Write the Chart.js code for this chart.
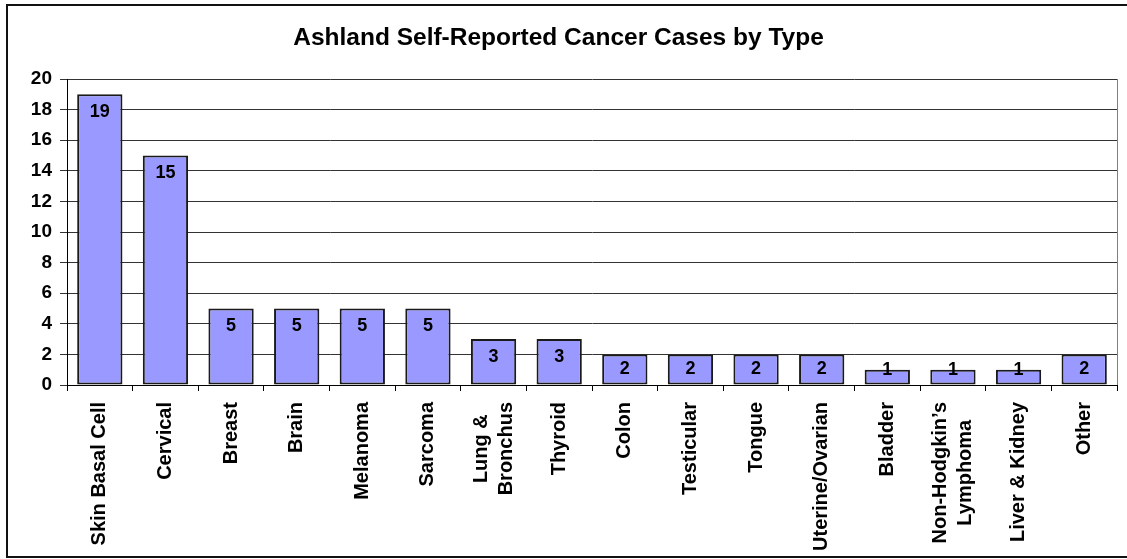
<!DOCTYPE html>
<html>
<head>
<meta charset="utf-8">
<title>Ashland Self-Reported Cancer Cases by Type</title>
<script src="https://cdn.jsdelivr.net/npm/chart.js@4/dist/chart.umd.min.js"></script>
<style>
html, body { margin: 0; padding: 0; background: #fff; }
#wrap { width: 1127px; height: 559px; }
</style>
</head>
<body>
<div id="wrap"><canvas id="casesByType" width="1127" height="559"></canvas></div>
<script>
// data
var chartTitle = 'Ashland Self-Reported Cancer Cases by Type';
var categories = ['Skin Basal Cell', 'Cervical', 'Breast', 'Brain', 'Melanoma', 'Sarcoma',
    ['Lung &', 'Bronchus'], 'Thyroid', 'Colon', 'Testicular', 'Tongue', 'Uterine/Ovarian',
    'Bladder', ['Non-Hodgkin\u2019s', 'Lymphoma'], 'Liver & Kidney', 'Other'];
var cases = [19, 15, 5, 5, 5, 5, 3, 3, 2, 2, 2, 2, 1, 1, 1, 2];
var yMin = 0, yMax = 20, yStep = 2;

var FONT = "'Liberation Sans', Arial, sans-serif";

// white background + outer frame + right edge of plot area
var framePlugin = {
    id: 'frame',
    beforeDraw: function(chart) {
        var ctx = chart.ctx;
        ctx.save();
        ctx.fillStyle = '#fff';
        ctx.fillRect(0, 0, chart.width, chart.height);
        ctx.strokeStyle = '#111';
        ctx.lineWidth = 2;
        ctx.strokeRect(7, 5, chart.width + 20, 552);
        ctx.restore();
    },
    beforeDatasetsDraw: function(chart) {
        var a = chart.chartArea, ctx = chart.ctx;
        ctx.save();
        ctx.strokeStyle = '#808080';
        ctx.lineWidth = 1;
        ctx.beginPath();
        ctx.moveTo(Math.round(a.right) + 0.5, a.top);
        ctx.lineTo(Math.round(a.right) + 0.5, a.bottom);
        ctx.stroke();
        ctx.restore();
    }
};

// value labels inside the top of each bar
var valueLabels = {
    id: 'valueLabels',
    afterDatasetsDraw: function(chart) {
        var ctx = chart.ctx;
        var meta = chart.getDatasetMeta(0);
        ctx.save();
        ctx.font = 'bold 18px ' + FONT;
        ctx.fillStyle = '#000';
        ctx.textAlign = 'center';
        ctx.textBaseline = 'middle';
        meta.data.forEach(function(bar, i) {
            var h = bar.base - bar.y;
            var off = Math.min(18, Math.max(0, h - 15));
            ctx.fillText(String(cases[i]), bar.x, bar.y + off);
        });
        ctx.restore();
    }
};

// category labels, turned to read bottom-to-top
var sideLabels = {
    id: 'sideLabels',
    afterDraw: function(chart) {
        var ctx = chart.ctx;
        var xs = chart.scales.x;
        var top = chart.chartArea.bottom + 17;
        var lineH = 25;
        ctx.save();
        ctx.font = 'bold 20px ' + FONT;
        ctx.fillStyle = '#000';
        ctx.textAlign = 'center';
        ctx.textBaseline = 'middle';
        categories.forEach(function(lab, i) {
            var lines = Array.isArray(lab) ? lab : [lab];
            var maxW = 0;
            lines.forEach(function(l) { maxW = Math.max(maxW, ctx.measureText(l).width); });
            var x = xs.getPixelForValue(i);
            lines.forEach(function(l, j) {
                var dx = (j - (lines.length - 1) / 2) * lineH;
                ctx.save();
                ctx.translate(x + dx, top);
                ctx.rotate(-Math.PI / 2);
                ctx.fillText(l, -maxW / 2, 0);
                ctx.restore();
            });
        });
        ctx.restore();
    }
};

var casesChart = new Chart(document.getElementById('casesByType'), {
    type: 'bar',
    data: {
        labels: categories,
        datasets: [{
            label: 'Cases',
            data: cases,
            backgroundColor: '#9999ff',
            borderColor: '#1a1a1a',
            borderWidth: 2,
            borderSkipped: false,
            categoryPercentage: 1,
            barPercentage: 0.69
        }]
    },
    options: {
        responsive: false,
        animation: false,
        devicePixelRatio: 1,
        layout: { padding: { top: 0, right: 10, bottom: 0, left: 0 } },
        plugins: {
            legend: { display: false },
            tooltip: { enabled: false },
            title: {
                display: true,
                text: chartTitle,
                color: '#000',
                font: { family: FONT, size: 24.5, weight: 'bold' },
                padding: { top: 24, bottom: 25.6 }
            }
        },
        scales: {
            x: {
                ticks: { display: false },
                grid: { offset: true, drawOnChartArea: false, drawTicks: true, tickLength: 6, color: '#000' },
                border: { color: '#000', width: 1 },
                afterFit: function(scale) { scale.height = 174; }
            },
            y: {
                min: yMin,
                max: yMax,
                ticks: {
                    stepSize: yStep,
                    color: '#000',
                    padding: 8,
                    font: { family: FONT, size: 19, weight: 'bold' }
                },
                grid: { color: '#333', tickLength: 7, lineWidth: 1 },
                border: { color: '#000', width: 1 },
                afterFit: function(scale) { scale.width = 67; }
            }
        }
    },
    plugins: [framePlugin, valueLabels, sideLabels]
});
</script>
</body>
</html>
